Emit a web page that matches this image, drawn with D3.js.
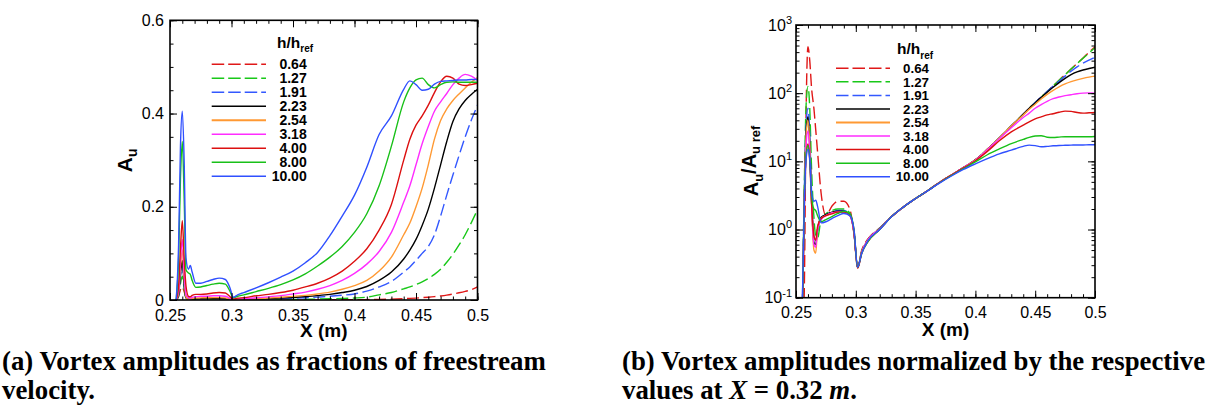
<!DOCTYPE html>
<html>
<head>
<meta charset="utf-8">
<script src="https://cdn.jsdelivr.net/npm/d3@7"></script>
<style>
  body { margin: 0; background: #fff; }
  svg { display: block; }
</style>
</head>
<body>
<svg id="fig" width="1212" height="405"></svg>
<script>
// Streamwise stations X (m) shared by every series
const xStations = [0.255, 0.257, 0.2585, 0.26, 0.2615, 0.263, 0.265, 0.2665, 0.268, 0.271,
  0.275, 0.28, 0.285, 0.29, 0.295, 0.2985, 0.3015, 0.305, 0.31, 0.32,
  0.33, 0.34, 0.35, 0.36, 0.37, 0.38, 0.39, 0.40, 0.41, 0.42,
  0.43, 0.44, 0.445, 0.45, 0.455, 0.46, 0.465, 0.47, 0.475, 0.48,
  0.485, 0.49, 0.495, 0.5];

// Roughness height ratios h/h_ref
const heightRatios = ["0.64", "1.27", "1.91", "2.23", "2.54", "3.18", "4.00", "8.00", "10.00"];

// (a) vortex amplitude A_u as a fraction of freestream velocity
const frac064 = [0, 0.008, 0.022, 0.028, 0.018, 0.006, 0.002, 0.0006, 0.0003, 0.0001, 0.00012, 0.00015, 0.00015, 0.00015, 0.00012, 0.00005, 0.00002, 0.00003, 0.00004, 0.00006, 0.00009, 0.00013, 0.00017, 0.00022, 0.0003, 0.0004, 0.0005, 0.0006, 0.0009, 0.0013, 0.0019, 0.0028, 0.0034, 0.0041, 0.005, 0.006, 0.0072, 0.0087, 0.0105, 0.0128, 0.0155, 0.0185, 0.022, 0.028];
const frac127 = [0, 0.008, 0.035, 0.051, 0.025, 0.004, 0.0008, 0.0004, 0.0004, 0.0006, 0.0007, 0.0008, 0.0008, 0.0008, 0.0007, 0.0004, 0.00013, 0.0002, 0.0003, 0.00041, 0.0006, 0.0009, 0.0012, 0.0015, 0.002, 0.0026, 0.0033, 0.0043, 0.0061, 0.011, 0.016, 0.024, 0.028, 0.033, 0.039, 0.046, 0.055, 0.066, 0.081, 0.098, 0.118, 0.14, 0.166, 0.194];
const frac191 = [0, 0.01, 0.05, 0.076, 0.03, 0.004, 0.001, 0.0009, 0.0012, 0.0018, 0.002, 0.0023, 0.0024, 0.0024, 0.002, 0.001, 0.0004, 0.0007, 0.0009, 0.00126, 0.0019, 0.0027, 0.0036, 0.0047, 0.0062, 0.0079, 0.0102, 0.013, 0.019, 0.028, 0.04, 0.06, 0.071, 0.085, 0.1, 0.115, 0.14, 0.18, 0.225, 0.268, 0.31, 0.35, 0.386, 0.418];
const frac223 = [0, 0.012, 0.055, 0.085, 0.035, 0.005, 0.0012, 0.0015, 0.002, 0.0028, 0.003, 0.0034, 0.0035, 0.0035, 0.003, 0.0015, 0.0006, 0.001, 0.0014, 0.0019, 0.0029, 0.0041, 0.0055, 0.0072, 0.0093, 0.012, 0.016, 0.021, 0.029, 0.042, 0.06, 0.088, 0.107, 0.13, 0.16, 0.195, 0.24, 0.29, 0.34, 0.383, 0.41, 0.428, 0.441, 0.452];
const frac254 = [0, 0.015, 0.07, 0.108, 0.045, 0.006, 0.0013, 0.002, 0.003, 0.004, 0.0045, 0.0048, 0.005, 0.005, 0.0045, 0.002, 0.0008, 0.0014, 0.0019, 0.0027, 0.0042, 0.0058, 0.0078, 0.01, 0.013, 0.017, 0.023, 0.031, 0.042, 0.062, 0.092, 0.14, 0.165, 0.2, 0.24, 0.29, 0.345, 0.385, 0.41, 0.428, 0.442, 0.455, 0.467, 0.477];
const frac318 = [0, 0.02, 0.085, 0.13, 0.06, 0.012, 0.005, 0.004, 0.006, 0.007, 0.008, 0.008, 0.009, 0.009, 0.008, 0.004, 0.0014, 0.0025, 0.0033, 0.0047, 0.0068, 0.0094, 0.013, 0.017, 0.023, 0.031, 0.042, 0.057, 0.077, 0.104, 0.145, 0.21, 0.245, 0.29, 0.335, 0.372, 0.405, 0.425, 0.443, 0.462, 0.476, 0.484, 0.48, 0.471];
const frac400 = [0, 0.03, 0.11, 0.17, 0.09, 0.03, 0.008, 0.007, 0.01, 0.012, 0.012, 0.013, 0.015, 0.016, 0.015, 0.008, 0.002, 0.004, 0.005, 0.009, 0.012, 0.016, 0.021, 0.028, 0.036, 0.047, 0.062, 0.083, 0.11, 0.15, 0.205, 0.3, 0.345, 0.375, 0.395, 0.418, 0.445, 0.468, 0.48, 0.476, 0.463, 0.46, 0.462, 0.465];
const frac800 = [0, 0.09, 0.26, 0.34, 0.22, 0.065, 0.058, 0.055, 0.042, 0.027, 0.028, 0.031, 0.034, 0.036, 0.034, 0.02, 0.005, 0.008, 0.011, 0.018, 0.025, 0.033, 0.043, 0.056, 0.073, 0.092, 0.115, 0.145, 0.185, 0.245, 0.33, 0.425, 0.455, 0.472, 0.476, 0.462, 0.455, 0.462, 0.467, 0.468, 0.467, 0.467, 0.467, 0.467];
const frac1000 = [0, 0.12, 0.33, 0.405, 0.3, 0.09, 0.066, 0.074, 0.06, 0.036, 0.036, 0.04, 0.044, 0.047, 0.044, 0.028, 0.006, 0.011, 0.016, 0.026, 0.037, 0.049, 0.062, 0.08, 0.102, 0.138, 0.18, 0.225, 0.285, 0.355, 0.395, 0.452, 0.47, 0.462, 0.45, 0.452, 0.463, 0.469, 0.47, 0.471, 0.472, 0.472, 0.473, 0.473];

// (b) amplitude normalised by its value at X = 0.32 m
const norm064 = [0.01, 0.15, 60, 480, 300, 120, 59, 29, 14, 3.4, 1.6, 2.2, 2.6, 2.6, 2.0, 0.85, 0.28, 0.5, 0.72, 1.05, 1.55, 2.15, 2.85, 3.7, 4.9, 6.3, 8.1, 10.5, 15, 22, 33, 49, 60, 73, 88, 106, 128, 155, 187, 226, 272, 328, 398, 480];
const norm127 = [0.02, 5, 70, 125, 60, 8, 1.5, 0.8, 0.75, 1.4, 1.7, 1.9, 2.0, 2.0, 1.75, 0.9, 0.28, 0.48, 0.7, 1.05, 1.55, 2.15, 2.85, 3.7, 4.9, 6.3, 8.1, 10.5, 15, 22, 33, 49, 60, 73, 88, 106, 128, 155, 187, 226, 272, 326, 390, 465];
const norm191 = [0.03, 4, 35, 60, 25, 3.5, 0.8, 0.7, 0.95, 1.5, 1.65, 1.8, 1.9, 1.9, 1.7, 0.9, 0.28, 0.47, 0.7, 1.04, 1.55, 2.15, 2.85, 3.7, 4.9, 6.3, 8.1, 10.5, 15, 22, 33, 49, 60, 73, 88, 106, 127, 150, 178, 210, 243, 275, 305, 335];
const norm223 = [0.03, 3, 28, 45, 18, 2.6, 0.65, 0.6, 1.0, 1.5, 1.65, 1.8, 1.85, 1.85, 1.65, 0.9, 0.28, 0.47, 0.7, 1.03, 1.55, 2.15, 2.85, 3.7, 4.9, 6.3, 8.1, 10.5, 15, 22, 33, 49, 60, 72, 87, 103, 122, 143, 165, 187, 205, 219, 230, 240];
const norm254 = [0.03, 3, 25, 40, 17, 2.5, 0.5, 0.45, 1.0, 1.45, 1.6, 1.75, 1.8, 1.8, 1.6, 0.9, 0.28, 0.47, 0.7, 1.03, 1.55, 2.15, 2.85, 3.7, 4.9, 6.3, 8.1, 10.5, 15, 22, 33, 48, 58, 69, 82, 96, 110, 124, 137, 148, 157, 165, 172, 178];
const norm318 = [0.03, 2.5, 18, 28, 13, 2.5, 0.6, 0.55, 1.0, 1.4, 1.6, 1.75, 1.8, 1.8, 1.6, 0.9, 0.28, 0.47, 0.7, 1.03, 1.55, 2.15, 2.85, 3.7, 4.9, 6.3, 8.1, 10.4, 14.8, 21.5, 31, 44, 51, 60, 68, 76, 83, 88, 92, 95, 98, 100, 101, 100];
const norm400 = [0.02, 2, 12, 18, 10, 2.5, 0.8, 0.7, 1.1, 1.45, 1.6, 1.7, 1.8, 1.8, 1.65, 0.95, 0.27, 0.45, 0.66, 1.0, 1.55, 2.15, 2.85, 3.7, 4.9, 6.3, 8.0, 10.2, 14, 20, 27, 34, 38, 42, 45, 48, 50, 52.5, 54.5, 54, 52, 51, 51.5, 52];
const norm800 = [0.03, 3, 13, 17, 11, 3.2, 2.0, 1.9, 1.6, 1.3, 1.4, 1.55, 1.72, 1.85, 1.7, 1.0, 0.28, 0.45, 0.66, 1.0, 1.55, 2.15, 2.85, 3.7, 4.85, 6.2, 7.8, 9.8, 12.5, 15.2, 18.2, 21, 22.5, 23.5, 23.8, 22.6, 22.4, 22.7, 23, 23, 23, 23, 23, 23.2];
const norm1000 = [0.05, 2.5, 11, 15, 11, 3.5, 2.6, 2.7, 2.2, 1.25, 1.3, 1.45, 1.6, 1.72, 1.6, 1.0, 0.28, 0.45, 0.68, 1.0, 1.55, 2.15, 2.85, 3.7, 4.8, 6.1, 7.6, 9.2, 11, 12.9, 14.6, 16.6, 17.3, 17.0, 16.4, 16.6, 16.9, 17.1, 17.2, 17.3, 17.4, 17.4, 17.5, 17.5];

// Axis ticks and labels
const xTicks = [0.25, 0.3, 0.35, 0.4, 0.45, 0.5];
const xTickLabels = ["0.25", "0.3", "0.35", "0.4", "0.45", "0.5"];
const fracTicks = [0, 0.2, 0.4, 0.6];
const fracTickLabels = ["0", "0.2", "0.4", "0.6"];
const normTicks = [0.1, 1, 10, 100, 1000];
const normTickExponents = ["-1", "0", "1", "2", "3"];

const fracSeries = [frac064, frac127, frac191, frac223, frac254, frac318, frac400, frac800, frac1000];
const normSeries = [norm064, norm127, norm191, norm223, norm254, norm318, norm400, norm800, norm1000];

// Line styles, one per height ratio
const lineColors = ["#e01818", "#18c818", "#3358ff", "#000000", "#ff9933", "#ff2cff", "#dc1010", "#18c018", "#3050ff"];
const lineDashed = [true, true, true, false, false, false, false, false, false];

const svg = d3.select("#fig");
const SANS = "Liberation Sans, Arial, Helvetica, sans-serif";
const SERIF = "Liberation Serif, Times New Roman, serif";

function drawPanel(o) {
  const g = svg.append("g").attr("transform", `translate(${o.left},${o.top})`);
  const w = o.width, h = o.height;
  const x = d3.scaleLinear().domain([0.25, 0.5]).range([0, w]);
  const y = o.yScale.range([h, 0]);

  const clipId = "clip-" + o.id;
  g.append("clipPath").attr("id", clipId)
    .append("rect").attr("x", 0).attr("y", 0).attr("width", w).attr("height", h);

  const line = d3.line()
    .x((d, i) => x(xStations[i]))
    .y(d => y(d))
    .curve(d3.curveMonotoneX);

  const lines = g.append("g").attr("clip-path", `url(#${clipId})`);
  o.series.forEach((vals, k) => {
    lines.append("path")
      .datum(vals)
      .attr("d", line)
      .attr("fill", "none")
      .attr("stroke", lineColors[k])
      .attr("stroke-width", 1.4)
      .attr("stroke-dasharray", lineDashed[k] ? "12,4.5" : null);
  });

  // Inward ticks on all four sides
  const MAJ = -7, MIN = -3.5;
  function tickGroup(axis, values, size, fmt, tx, ty) {
    const a = g.append("g").attr("transform", `translate(${tx},${ty})`)
      .call(axis.tickValues(values).tickSize(size).tickSizeOuter(0).tickFormat(fmt).tickPadding(o.pad));
    a.select(".domain").remove();
    a.selectAll(".tick line").attr("stroke", "#000").attr("stroke-width", 1);
    a.selectAll(".tick text").attr("font-family", SANS).attr("font-size", 16).attr("fill", "#000");
    a.attr("font-family", null).attr("font-size", null);
    return a;
  }
  const xMinor = x.ticks(25);
  const yMinor = o.yMinor(y);

  const bottom = tickGroup(d3.axisBottom(x), xTicks, MAJ, (d, i) => xTickLabels[i], 0, h);
  bottom.selectAll(".tick text").attr("y", o.xLabelGap).attr("dy", "0.71em");
  tickGroup(d3.axisBottom(x), xMinor, MIN, () => "", 0, h);
  tickGroup(d3.axisTop(x), xTicks, MAJ, () => "", 0, 0);
  tickGroup(d3.axisTop(x), xMinor, MIN, () => "", 0, 0);

  const left = tickGroup(d3.axisLeft(y), o.yTicks, MAJ, o.yFormat, 0, 0);
  left.selectAll(".tick text").attr("x", -o.yLabelGap);
  if (o.yDecorate) o.yDecorate(left);
  tickGroup(d3.axisLeft(y), yMinor, MIN, () => "", 0, 0);
  tickGroup(d3.axisRight(y), o.yTicks, MAJ, () => "", w, 0);
  tickGroup(d3.axisRight(y), yMinor, MIN, () => "", w, 0);

  // Frame
  g.append("rect").attr("x", 0).attr("y", 0).attr("width", w).attr("height", h)
    .attr("fill", "none").attr("stroke", "#000").attr("stroke-width", 1.6);

  // Legend
  const lg = g.append("g").attr("font-family", SANS).attr("font-weight", "bold").attr("font-size", o.legend.fontSize);
  const title = lg.append("text").attr("x", o.legend.titleX).attr("y", o.legend.titleY).attr("font-size", 15.5);
  title.append("tspan").text("h/h");
  title.append("tspan").attr("font-size", 10).attr("dy", "0.45em").text("ref");
  heightRatios.forEach((lab, k) => {
    const cy = o.legend.rowY + k * o.legend.rowStep;
    lg.append("line")
      .attr("x1", o.legend.lineX1).attr("x2", o.legend.lineX2)
      .attr("y1", cy).attr("y2", cy)
      .attr("stroke", lineColors[k]).attr("stroke-width", k === 4 ? 2 : 1.5)
      .attr("stroke-dasharray", lineDashed[k] ? "12.5,4" : null);
    lg.append("text").attr("x", o.legend.labelX).attr("y", cy).attr("dy", "0.36em")
      .attr("text-anchor", "end").text(lab);
  });

  // X axis title
  g.append("text").attr("x", w / 2).attr("y", o.xTitleY)
    .attr("text-anchor", "middle").attr("font-family", SANS).attr("font-weight", "bold")
    .attr("font-size", 19).text("X (m)");
  return g;
}

// (a) Linear amplitude panel
const gA = drawPanel({
  id: "a", left: 170, top: 20.3, width: 307.5, height: 279.7,
  yScale: d3.scaleLinear().domain([0, 0.6]),
  yTicks: fracTicks,
  yFormat: (d, i) => fracTickLabels[i],
  yMinor: y => y.ticks(12),
  series: fracSeries,
  pad: 3, xLabelGap: 9.5, yLabelGap: 6,
  xTitleY: 316.7,
  legend: { fontSize: 14, titleX: 107, titleY: 27.5, rowY: 44, rowStep: 14, lineX1: 41.7, lineX2: 96, labelX: 136.7 }
});
const tA = gA.append("text").attr("transform", "translate(-38,140) rotate(-90)")
  .attr("text-anchor", "middle").attr("font-family", SANS).attr("font-weight", "bold").attr("font-size", 21);
tA.append("tspan").text("A");
tA.append("tspan").attr("font-size", 14).attr("dy", "0.35em").text("u");

// (b) Logarithmic normalised panel
const gB = drawPanel({
  id: "b", left: 796, top: 25, width: 299, height: 272.7,
  yScale: d3.scaleLog().domain([0.1, 1000]),
  yTicks: normTicks,
  yFormat: () => "10",
  yMinor: y => y.ticks(),
  yDecorate: a => a.selectAll(".tick text").each(function (d, i) {
    d3.select(this).append("tspan").attr("font-size", 11).attr("dy", "-0.62em").text(normTickExponents[i]);
  }),
  series: normSeries,
  pad: 3, xLabelGap: 8.5, yLabelGap: 4,
  xTitleY: 311,
  legend: { fontSize: 13.3, titleX: 101, titleY: 29, rowY: 43.3, rowStep: 13.55, lineX1: 40, lineX2: 94, labelX: 133 }
});
const tB = gB.append("text").attr("transform", "translate(-38,136) rotate(-90)")
  .attr("text-anchor", "middle").attr("font-family", SANS).attr("font-weight", "bold").attr("font-size", 20);
tB.append("tspan").text("A");
tB.append("tspan").attr("font-size", 13).attr("dy", "0.35em").text("u");
tB.append("tspan").attr("dy", "-0.35em").attr("font-size", 20).text("/A");
tB.append("tspan").attr("font-size", 13).attr("dy", "0.35em").text("u ref");

// Captions
const capA = svg.append("g").attr("font-family", SERIF).attr("font-weight", "bold").attr("font-size", 26.8);
capA.append("text").attr("x", 2).attr("y", 370).text("(a) Vortex amplitudes as fractions of freestream");
capA.append("text").attr("x", 2).attr("y", 399).text("velocity.");

const capB = svg.append("g").attr("font-family", SERIF).attr("font-weight", "bold").attr("font-size", 26.8);
capB.append("text").attr("x", 622).attr("y", 370).text("(b) Vortex amplitudes normalized by the respective");
const capB2 = capB.append("text").attr("x", 622).attr("y", 399);
capB2.append("tspan").text("values at ");
capB2.append("tspan").attr("font-style", "italic").text("X");
capB2.append("tspan").text(" = 0.32 ");
capB2.append("tspan").attr("font-style", "italic").text("m");
capB2.append("tspan").text(".");
</script>
</body>
</html>
